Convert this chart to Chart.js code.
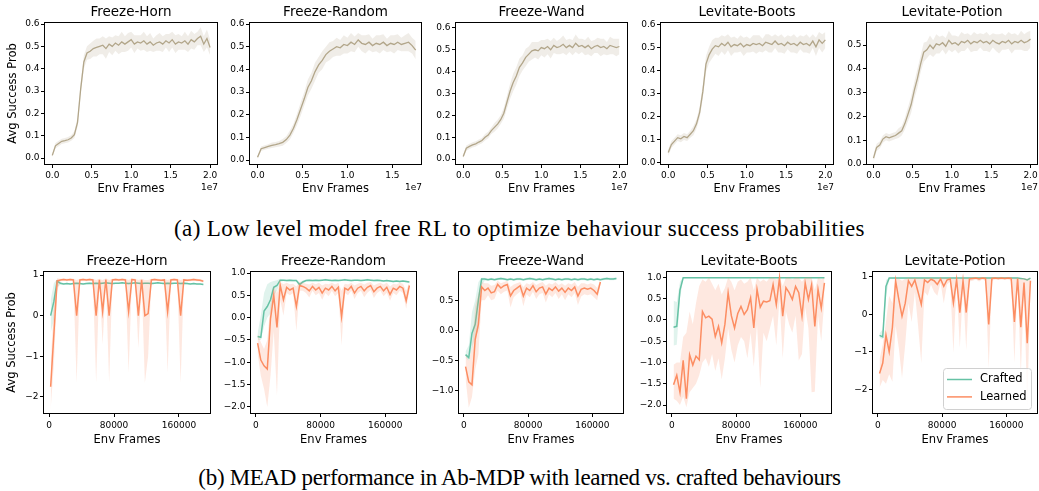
<!DOCTYPE html>
<html lang="en">
<head>
<meta charset="UTF-8" />
<title>Behaviour success curves</title>
<script src="https://cdn.jsdelivr.net/npm/chart.js"></script>
<style>
  body { margin: 0; width: 1039px; height: 491px; position: relative; overflow: hidden; background: #fff; }
  canvas { position: absolute; }
  .caption {
    position: absolute; left: 0; width: 1039px; text-align: center; white-space: nowrap;
    font-family: "Liberation Serif", "Times New Roman", serif; font-size: 23px; line-height: 23px; color: #000;
  }
</style>
</head>
<body>
<div class="caption" style="top:217px; letter-spacing:0.35px">(a) Low level model free RL to optimize behaviour success probabilities</div>
<div class="caption" style="top:466px; letter-spacing:-0.32px">(b) MEAD performance in Ab-MDP with learned vs. crafted behaviours</div>
<script>
// ---- row (a): env frames in units of 1e7 ----
const framesA = [0,0.04,0.08,0.12,0.16,0.2,0.24,0.28,0.32,0.36,
  0.4,0.44,0.48,0.52,0.56,0.6,0.64,0.68,0.72,0.76,
  0.8,0.84,0.88,0.92,0.96,1.0,1.04,1.08,1.12,1.16,
  1.2,1.24,1.28,1.32,1.36,1.4,1.44,1.48,1.52,1.56,
  1.6,1.64,1.68,1.72,1.76,1.8,1.84,1.88,1.92,1.96,
  2.0];
const ticksA = [0, 0.5, 1.0, 1.5, 2.0];

const hornA = [0.012,0.055,0.065,0.075,0.078,0.082,0.09,0.105,0.16,0.31,
  0.43,0.47,0.478,0.49,0.495,0.5,0.505,0.49,0.51,0.5,
  0.515,0.505,0.52,0.51,0.52,0.53,0.51,0.52,0.515,0.525,
  0.51,0.52,0.505,0.515,0.52,0.51,0.525,0.515,0.53,0.51,
  0.52,0.515,0.525,0.51,0.53,0.52,0.535,0.545,0.51,0.535,
  0.495];
const hornASpread = [0.008,0.012,0.012,0.012,0.012,0.012,0.012,0.015,0.02,0.025,
  0.03,0.03,0.035,0.035,0.04,0.035,0.04,0.045,0.035,0.04,
  0.035,0.04,0.045,0.035,0.04,0.035,0.04,0.03,0.035,0.04,
  0.035,0.04,0.03,0.035,0.04,0.035,0.03,0.04,0.035,0.04,
  0.035,0.03,0.04,0.035,0.04,0.035,0.03,0.04,0.035,0.04,
  0.035];

const randomA = [0.012,0.05,0.055,0.06,0.065,0.068,0.072,0.078,0.09,0.11,
  0.14,0.18,0.225,0.27,0.32,0.35,0.39,0.42,0.44,0.465,
  0.48,0.49,0.5,0.495,0.51,0.505,0.52,0.51,0.53,0.515,
  0.51,0.52,0.505,0.515,0.51,0.52,0.505,0.515,0.51,0.52,
  0.51,0.515,0.52,0.505,0.485];
const randomASpread = [0.008,0.01,0.01,0.01,0.012,0.012,0.012,0.015,0.015,0.02,
  0.02,0.025,0.03,0.03,0.035,0.035,0.04,0.035,0.04,0.035,
  0.04,0.035,0.04,0.035,0.04,0.035,0.04,0.035,0.03,0.035,
  0.04,0.035,0.03,0.035,0.04,0.035,0.03,0.035,0.04,0.035,
  0.03,0.035,0.04,0.035,0.04];

const wandA = [0.012,0.05,0.058,0.065,0.07,0.078,0.085,0.1,0.11,0.13,
  0.145,0.16,0.18,0.21,0.26,0.31,0.35,0.38,0.42,0.44,
  0.465,0.48,0.495,0.5,0.495,0.51,0.505,0.515,0.5,0.52,
  0.51,0.515,0.525,0.51,0.52,0.51,0.53,0.515,0.52,0.51,
  0.52,0.505,0.515,0.52,0.51,0.515,0.505,0.52,0.515,0.51,
  0.515];
const wandASpread = [0.008,0.012,0.012,0.012,0.012,0.012,0.012,0.015,0.015,0.015,
  0.02,0.02,0.02,0.025,0.03,0.035,0.04,0.04,0.04,0.035,
  0.04,0.035,0.04,0.035,0.04,0.035,0.04,0.035,0.04,0.035,
  0.03,0.035,0.04,0.035,0.03,0.035,0.04,0.035,0.03,0.035,
  0.04,0.035,0.03,0.035,0.04,0.035,0.03,0.04,0.035,0.04,
  0.035];

const bootsA = [0.045,0.08,0.095,0.11,0.105,0.115,0.11,0.125,0.14,0.17,
  0.22,0.31,0.43,0.47,0.495,0.51,0.505,0.52,0.51,0.525,
  0.505,0.515,0.51,0.52,0.505,0.515,0.51,0.52,0.515,0.52,
  0.51,0.525,0.52,0.515,0.53,0.515,0.52,0.51,0.525,0.515,
  0.52,0.51,0.525,0.515,0.52,0.51,0.53,0.505,0.535,0.52,
  0.535];
const bootsASpread = [0.015,0.015,0.015,0.015,0.015,0.015,0.015,0.015,0.02,0.02,
  0.025,0.03,0.035,0.035,0.04,0.035,0.04,0.035,0.04,0.035,
  0.04,0.035,0.03,0.035,0.04,0.035,0.03,0.035,0.04,0.035,
  0.03,0.035,0.04,0.035,0.03,0.035,0.04,0.035,0.03,0.035,
  0.04,0.035,0.03,0.035,0.04,0.035,0.03,0.04,0.035,0.04,
  0.035];

const potionA = [0.025,0.07,0.08,0.105,0.115,0.11,0.115,0.12,0.13,0.14,
  0.17,0.21,0.25,0.31,0.36,0.42,0.47,0.48,0.5,0.485,
  0.505,0.5,0.51,0.495,0.52,0.505,0.51,0.5,0.515,0.51,
  0.52,0.505,0.515,0.51,0.52,0.51,0.515,0.505,0.52,0.51,
  0.505,0.515,0.51,0.52,0.505,0.515,0.51,0.52,0.51,0.515,
  0.525];
const potionASpread = [0.015,0.015,0.015,0.015,0.015,0.015,0.015,0.015,0.02,0.02,
  0.025,0.03,0.035,0.035,0.04,0.035,0.04,0.035,0.04,0.035,
  0.04,0.035,0.03,0.035,0.04,0.035,0.03,0.035,0.04,0.035,
  0.03,0.035,0.04,0.035,0.03,0.035,0.04,0.035,0.03,0.035,
  0.04,0.035,0.03,0.035,0.04,0.035,0.03,0.04,0.035,0.04,
  0.035];

// ---- row (b): env frames ----
const framesB = [2000,6000,10000,14000,18000,22000,26000,30000,34000,38000,
  42000,46000,50000,54000,58000,62000,66000,70000,74000,78000,
  82000,86000,90000,94000,98000,102000,106000,110000,114000,118000,
  122000,126000,130000,134000,138000,142000,146000,150000,154000,158000,
  162000,166000,170000,174000,178000,182000,186000,190000];
const ticksB = [0, 80000, 160000];

const hornCrafted = [0.0,0.35,0.85,0.8,0.78,0.79,0.78,0.79,0.8,0.79,
  0.78,0.79,0.8,0.79,0.8,0.79,0.8,0.81,0.8,0.79,
  0.8,0.8,0.81,0.8,0.79,0.8,0.81,0.8,0.79,0.8,
  0.8,0.79,0.8,0.81,0.8,0.79,0.8,0.79,0.8,0.8,
  0.79,0.8,0.79,0.78,0.79,0.78,0.78,0.77];
const hornCraftedLo = [-0.42,-0.1,0.7,0.76,0.76,0.77,0.76,0.77,0.78,0.77,
  0.76,0.77,0.78,0.77,0.78,0.77,0.78,0.79,0.78,0.77,
  0.78,0.78,0.79,0.78,0.77,0.78,0.79,0.78,0.77,0.78,
  0.78,0.77,0.78,0.79,0.78,0.77,0.78,0.77,0.78,0.78,
  0.77,0.78,0.77,0.76,0.77,0.76,0.76,0.75];
const hornCraftedHi = [0.38,0.8,0.9,0.83,0.8,0.81,0.8,0.81,0.82,0.81,
  0.8,0.81,0.82,0.81,0.82,0.81,0.82,0.83,0.82,0.81,
  0.82,0.82,0.83,0.82,0.81,0.82,0.83,0.82,0.81,0.82,
  0.82,0.81,0.82,0.83,0.82,0.81,0.82,0.81,0.82,0.82,
  0.81,0.82,0.81,0.8,0.81,0.8,0.8,0.79];
const hornLearned = [-1.75,-0.45,0.86,0.88,0.89,0.88,0.89,0.88,0.0,0.88,
  0.89,0.88,0.89,0.88,0.0,0.88,0.1,0.89,0.0,0.88,
  0.89,0.88,0.89,0.88,0.1,0.89,0.88,0.0,0.88,0.0,
  0.05,0.88,0.89,0.88,0.87,0.88,0.1,0.88,0.89,0.88,
  0.0,0.88,0.87,0.88,0.89,0.88,0.87,0.85];
const hornLearnedLo = [-2.3,-1.2,0.6,0.85,0.86,0.85,0.86,0.85,-1.65,0.85,
  0.86,0.85,0.86,0.85,-1.65,0.85,-0.7,0.86,-1.65,0.85,
  0.86,0.85,0.86,0.85,-1.4,0.86,0.85,-0.8,0.85,-1.65,
  -1.0,0.85,0.86,0.85,0.84,0.85,-1.4,0.85,0.86,0.85,
  -1.65,0.85,0.84,0.85,0.86,0.85,0.84,0.82];
const hornLearnedHi = [-1.2,0.25,0.92,0.91,0.92,0.91,0.92,0.91,0.88,0.91,
  0.92,0.91,0.92,0.91,0.88,0.91,0.88,0.92,0.88,0.91,
  0.92,0.91,0.92,0.91,0.88,0.92,0.91,0.88,0.91,0.88,
  0.88,0.91,0.92,0.91,0.9,0.91,0.88,0.91,0.92,0.91,
  0.88,0.91,0.9,0.91,0.92,0.91,0.9,0.88];

const randomCrafted = [-0.42,-0.44,0.15,0.25,0.4,0.68,0.72,0.84,0.84,0.83,
  0.84,0.83,0.83,0.74,0.8,0.83,0.84,0.83,0.84,0.83,
  0.84,0.85,0.84,0.83,0.84,0.83,0.84,0.85,0.84,0.83,
  0.84,0.84,0.83,0.84,0.85,0.84,0.83,0.84,0.83,0.82,
  0.83,0.82,0.81,0.82,0.81,0.82,0.81,0.8];
const randomCraftedLo = [-0.5,-0.5,-0.2,0.0,0.1,0.5,0.6,0.8,0.82,0.81,
  0.82,0.81,0.81,0.7,0.77,0.81,0.82,0.81,0.82,0.81,
  0.82,0.83,0.82,0.81,0.82,0.81,0.82,0.83,0.82,0.81,
  0.82,0.82,0.81,0.82,0.83,0.82,0.81,0.82,0.81,0.8,
  0.81,0.8,0.79,0.8,0.79,0.8,0.79,0.78];
const randomCraftedHi = [-0.35,0.05,0.55,0.75,0.8,0.82,0.84,0.87,0.86,0.85,
  0.86,0.85,0.85,0.8,0.83,0.85,0.86,0.85,0.86,0.85,
  0.86,0.87,0.86,0.85,0.86,0.85,0.86,0.87,0.86,0.85,
  0.86,0.86,0.85,0.86,0.87,0.86,0.85,0.86,0.85,0.84,
  0.85,0.84,0.83,0.84,0.83,0.84,0.83,0.82];
const randomLearned = [-0.57,-0.95,-1.08,-1.15,-0.02,0.5,-0.22,0.73,0.4,0.68,
  0.62,0.66,0.25,0.72,0.7,0.66,0.6,0.7,0.62,0.68,
  0.55,0.66,0.62,0.7,0.6,0.68,0.02,0.66,0.62,0.7,
  0.55,0.66,0.7,0.6,0.68,0.72,0.58,0.66,0.7,0.6,
  0.68,0.52,0.66,0.62,0.7,0.66,0.38,0.72];
const randomLearnedLo = [-0.8,-1.3,-1.6,-2.0,-1.3,-0.3,-1.75,0.4,0.05,0.55,
  0.5,0.55,-0.3,0.6,0.6,0.55,0.45,0.6,0.5,0.55,
  0.4,0.55,0.48,0.6,0.48,0.56,-0.62,0.55,0.5,0.6,
  0.42,0.55,0.6,0.46,0.56,0.62,0.44,0.55,0.6,0.48,
  0.56,0.38,0.55,0.5,0.6,0.55,0.2,0.62];
const randomLearnedHi = [-0.35,-0.55,-0.7,-0.5,0.3,0.7,0.55,0.8,0.75,0.78,
  0.75,0.76,0.7,0.8,0.78,0.76,0.74,0.78,0.75,0.78,
  0.72,0.76,0.75,0.78,0.74,0.78,0.6,0.76,0.74,0.78,
  0.72,0.76,0.78,0.74,0.78,0.8,0.72,0.76,0.78,0.74,
  0.78,0.7,0.76,0.74,0.78,0.76,0.6,0.8];

const wandCrafted = [-0.4,-0.45,-0.05,0.1,0.5,0.85,0.85,0.84,0.85,0.84,
  0.85,0.86,0.85,0.84,0.85,0.84,0.85,0.85,0.84,0.85,
  0.86,0.85,0.84,0.85,0.84,0.85,0.86,0.85,0.84,0.85,
  0.84,0.85,0.85,0.84,0.85,0.84,0.85,0.85,0.84,0.85,
  0.84,0.85,0.84,0.85,0.86,0.85,0.85,0.86];
const wandCraftedLo = [-0.45,-0.5,-0.3,-0.1,0.0,0.75,0.82,0.82,0.83,0.82,
  0.83,0.84,0.83,0.82,0.83,0.82,0.83,0.83,0.82,0.83,
  0.84,0.83,0.82,0.83,0.82,0.83,0.84,0.83,0.82,0.83,
  0.82,0.83,0.83,0.82,0.83,0.82,0.83,0.83,0.82,0.83,
  0.82,0.83,0.82,0.83,0.84,0.83,0.83,0.84];
const wandCraftedHi = [-0.35,-0.25,0.3,0.5,0.8,0.87,0.87,0.86,0.87,0.86,
  0.87,0.88,0.87,0.86,0.87,0.86,0.87,0.87,0.86,0.87,
  0.88,0.87,0.86,0.87,0.86,0.87,0.88,0.87,0.86,0.87,
  0.86,0.87,0.87,0.86,0.87,0.86,0.87,0.87,0.86,0.87,
  0.86,0.87,0.86,0.87,0.88,0.87,0.87,0.88];
const wandLearned = [-0.6,-0.85,-0.9,-0.15,0.1,0.72,0.66,0.7,0.62,0.64,
  0.76,0.7,0.74,0.76,0.57,0.66,0.7,0.74,0.57,0.7,
  0.66,0.74,0.64,0.7,0.72,0.6,0.7,0.66,0.72,0.65,
  0.7,0.63,0.7,0.66,0.72,0.57,0.68,0.7,0.68,0.7,
  0.66,0.6,0.8,null,null,null,null,null];
const wandLearnedLo = [-0.8,-1.28,-1.1,-0.65,-0.4,0.5,0.5,0.58,0.5,0.52,
  0.66,0.6,0.64,0.66,0.38,0.55,0.6,0.64,0.4,0.6,
  0.55,0.64,0.52,0.6,0.62,0.46,0.6,0.55,0.62,0.52,
  0.6,0.5,0.6,0.55,0.62,0.42,0.56,0.6,0.58,0.6,
  0.55,0.5,0.75,null,null,null,null,null];
const wandLearnedHi = [-0.4,-0.5,-0.3,0.4,0.6,0.8,0.78,0.78,0.74,0.75,
  0.82,0.78,0.8,0.82,0.72,0.76,0.78,0.8,0.72,0.78,
  0.76,0.8,0.75,0.78,0.8,0.74,0.78,0.76,0.8,0.75,
  0.78,0.74,0.78,0.76,0.8,0.72,0.78,0.78,0.76,0.78,
  0.76,0.7,0.84,null,null,null,null,null];

const bootsCrafted = [-0.17,-0.15,0.7,0.99,0.99,0.99,0.99,0.99,0.99,0.99,
  0.99,0.99,0.99,0.99,0.99,0.99,0.99,0.99,0.99,0.99,
  0.99,0.99,0.99,0.99,0.99,0.99,0.99,0.99,0.99,0.99,
  0.99,0.99,0.99,0.99,0.99,0.99,0.99,0.99,0.99,0.99,
  0.99,0.99,0.99,0.99,0.99,0.99,0.99,0.99];
const bootsCraftedLo = [-0.6,-0.58,0.5,0.97,0.98,0.98,0.98,0.98,0.98,0.98,
  0.98,0.98,0.98,0.98,0.98,0.98,0.98,0.98,0.98,0.98,
  0.98,0.98,0.98,0.98,0.98,0.98,0.98,0.98,0.98,0.98,
  0.98,0.98,0.98,0.98,0.98,0.98,0.98,0.98,0.98,0.98,
  0.98,0.98,0.98,0.98,0.98,0.98,0.98,0.98];
const bootsCraftedHi = [0.45,0.42,0.9,1.0,1.0,1.0,1.0,1.0,1.0,1.0,
  1.0,1.0,1.0,1.0,1.0,1.0,1.0,1.0,1.0,1.0,
  1.0,1.0,1.0,1.0,1.0,1.0,1.0,1.0,1.0,1.0,
  1.0,1.0,1.0,1.0,1.0,1.0,1.0,1.0,1.0,1.0,
  1.0,1.0,1.0,1.0,1.0,1.0,1.0,1.0];
const bootsLearned = [-1.52,-1.3,-1.7,-0.95,-1.85,-0.82,-1.06,-0.85,-0.94,0.2,
  0.05,0.09,0.02,-0.39,-0.15,-0.54,-0.1,0.64,0.1,-0.19,
  0.15,0.32,0.13,0.24,0.52,-0.19,0.72,0.3,0.44,0.42,
  0.45,0.83,0.36,0.99,0.09,0.76,0.64,0.48,0.79,0.64,
  0.09,0.87,0.48,0.83,-0.15,0.72,0.28,0.87];
const bootsLearnedLo = [-1.85,-1.9,-2.0,-1.8,-2.05,-1.7,-1.6,-1.5,-1.3,-1.0,
  -0.9,-1.1,-0.8,-1.2,-0.9,-1.4,-0.9,-0.2,-0.7,-1.0,
  -0.6,-0.4,-0.5,-0.9,-0.3,-1.1,-0.1,-1.6,-0.3,-0.5,
  -0.2,0.1,-0.6,0.5,-0.9,0.2,-0.1,-0.3,0.1,-0.95,
  -0.8,0.3,-0.2,-1.7,-1.69,0.1,-0.5,0.5];
const bootsLearnedHi = [-1.05,-1.0,-1.0,-0.4,-0.3,0.2,-0.1,0.4,0.8,0.95,
  0.9,1.0,0.85,0.7,0.85,0.6,0.75,1.0,0.9,0.7,
  0.9,0.95,0.85,0.9,1.0,0.7,1.0,0.9,0.95,0.9,
  1.0,1.0,0.95,1.0,0.8,1.0,1.0,0.95,1.0,1.0,
  0.9,1.0,1.0,1.0,0.7,1.0,0.95,1.0];

const potionCrafted = [-0.56,-0.6,0.75,0.97,0.97,0.97,0.97,0.97,0.97,0.97,
  0.97,0.97,0.97,0.97,0.97,0.97,0.97,0.97,0.97,0.97,
  0.97,0.97,0.97,0.97,0.97,0.97,0.97,0.97,0.97,0.97,
  0.97,0.97,0.97,0.97,0.97,0.97,0.97,0.97,0.97,0.97,
  0.97,0.97,0.97,0.97,0.96,0.95,0.92,0.97];
const potionCraftedLo = [-0.62,-0.66,0.45,0.95,0.96,0.96,0.96,0.96,0.96,0.96,
  0.96,0.96,0.96,0.96,0.96,0.96,0.96,0.96,0.96,0.96,
  0.96,0.96,0.96,0.96,0.96,0.96,0.96,0.96,0.96,0.96,
  0.96,0.96,0.96,0.96,0.96,0.96,0.96,0.96,0.96,0.96,
  0.96,0.96,0.96,0.96,0.95,0.94,0.9,0.96];
const potionCraftedHi = [-0.5,-0.4,0.92,0.98,0.98,0.98,0.98,0.98,0.98,0.98,
  0.98,0.98,0.98,0.98,0.98,0.98,0.98,0.98,0.98,0.98,
  0.98,0.98,0.98,0.98,0.98,0.98,0.98,0.98,0.98,0.98,
  0.98,0.98,0.98,0.98,0.98,0.98,0.98,0.98,0.98,0.98,
  0.98,0.98,0.98,0.98,0.97,0.96,0.94,0.98];
const potionLearned = [-1.58,-1.3,-0.55,-1.0,-0.35,0.9,0.4,-0.05,0.3,0.9,
  0.75,0.92,0.6,0.27,0.92,0.85,0.94,0.9,0.8,0.95,
  0.75,0.92,0.95,0.31,0.93,0.05,0.9,0.05,0.95,0.96,
  0.97,0.95,0.97,0.96,-0.27,0.96,0.97,0.96,0.97,0.96,
  0.97,0.96,-0.2,0.96,-0.34,0.85,-0.77,0.9];
const potionLearnedLo = [-1.95,-1.75,-1.85,-1.6,-1.8,-0.3,-0.9,-1.7,-0.8,0.3,
  -0.2,0.6,-0.3,-1.3,0.6,0.5,0.8,0.6,0.5,0.85,
  0.3,0.8,0.88,-1.03,0.82,-0.9,0.7,-0.95,0.88,0.9,
  0.93,0.88,0.93,0.9,-1.44,0.9,0.93,0.92,0.93,0.92,
  0.93,0.9,-1.3,0.9,-1.6,0.7,-2.48,0.75];
const potionLearnedHi = [-1.2,-0.8,-0.2,0.5,0.3,0.97,0.95,0.9,0.95,0.97,
  0.97,0.97,0.97,0.95,0.97,0.97,0.97,0.97,0.97,0.98,
  0.97,0.97,0.98,0.95,0.98,0.95,0.97,0.95,0.98,0.98,
  0.98,0.98,0.98,0.98,0.95,0.98,0.98,0.98,0.98,0.98,
  0.98,0.98,0.95,0.98,0.95,0.97,0.95,0.97];

// ---- drawing ----
const FONT = "'DejaVu Sans', sans-serif";
const TAN = '#b2a68a', GREEN = '#66c2a5', ORANGE = '#fc8d62';
const YW = 42, RP = 4, TITLE_H = 22;

function fmtNum(dec) {
  return v => {
    if (Math.abs(v) < 1e-9) v = 0;
    const s = Math.abs(v).toFixed(dec);
    return v < 0 ? '\u2212' + s : s;
  };
}

function toPts(xs, ys) {
  return ys.map((y, i) => ({x: xs[i], y: y}));
}

function bandSets(xs, lo, hi, color, order) {
  return [
    {data: toPts(xs, lo), borderWidth: 0, borderColor: 'transparent', pointRadius: 0, fill: false, order: order},
    {data: toPts(xs, hi), borderWidth: 0, borderColor: 'transparent', pointRadius: 0, fill: '-1', backgroundColor: color, order: order}
  ];
}

function lineSet(xs, ys, color, width, order, label) {
  return {label: label, data: toPts(xs, ys), borderColor: color, borderWidth: width, pointRadius: 0, fill: false, order: order};
}

// axes frame, panel title, offset text and inset legend
const framePlugin = {
  id: 'frame',
  afterDraw(chart, args, o) {
    const ctx = chart.ctx, a = chart.chartArea;
    ctx.save();
    ctx.strokeStyle = '#000';
    ctx.lineWidth = 1;
    ctx.strokeRect(Math.round(a.left) + 0.5, Math.round(a.top) + 0.5,
      Math.round(a.right - a.left) - 1, Math.round(a.bottom - a.top) - 1);
    ctx.fillStyle = '#000';
    ctx.font = '13.5px ' + FONT;
    ctx.textAlign = 'center';
    ctx.textBaseline = 'middle';
    ctx.fillText(o.title, (a.left + a.right) / 2, a.top - 10);
    if (o.offset) {
      ctx.font = '9px ' + FONT;
      ctx.textAlign = 'right';
      ctx.fillText(o.offset, a.right, a.bottom + 23);
    }
    if (o.legend) {
      const items = chart.data.datasets.filter(d => d.label);
      const lw = 88, lh = 41;
      const x0 = a.right - 7 - lw, y0 = a.bottom - 5 - lh;
      ctx.beginPath();
      ctx.roundRect(x0 + 0.5, y0 + 0.5, lw, lh, 3);
      ctx.fillStyle = 'rgba(255,255,255,0.8)';
      ctx.fill();
      ctx.strokeStyle = '#d0d0d0';
      ctx.stroke();
      items.forEach((d, i) => {
        const cy = y0 + 11.5 + i * 17.4;
        ctx.strokeStyle = d.borderColor;
        ctx.lineWidth = 1.5;
        ctx.beginPath();
        ctx.moveTo(x0 + 4, cy);
        ctx.lineTo(x0 + 29, cy);
        ctx.stroke();
        ctx.fillStyle = '#000';
        ctx.font = '11.5px ' + FONT;
        ctx.textAlign = 'left';
        ctx.fillText(d.label, x0 + 37, cy);
      });
    }
    ctx.restore();
  }
};

function makeChart(p) {
  const [L, T, R, B] = p.box;
  const hx = p.row === 0 ? 31 : 33;
  const w = R - L + YW + RP, h = TITLE_H + (B - T) + hx;
  const cv = document.createElement('canvas');
  cv.width = w; cv.height = h;
  cv.style.left = (L - YW) + 'px';
  cv.style.top = (T - TITLE_H) + 'px';
  cv.style.width = w + 'px';
  cv.style.height = h + 'px';
  document.body.appendChild(cv);

  const tickGrid = {display: true, drawOnChartArea: false, drawTicks: true, tickLength: 3, color: '#000', lineWidth: 1};
  new Chart(cv, {
    type: 'line',
    data: {datasets: p.datasets},
    plugins: [framePlugin],
    options: {
      responsive: false,
      animation: false,
      devicePixelRatio: 1,
      layout: {padding: {left: 0, right: RP, top: TITLE_H, bottom: 0}},
      plugins: {
        legend: {display: false},
        tooltip: {enabled: false},
        title: {display: false},
        frame: {title: p.title, offset: p.offset, legend: p.legend}
      },
      scales: {
        x: {
          type: 'linear', min: p.xMin, max: p.xMax,
          afterBuildTicks: s => { s.ticks = p.xTicks.map(v => ({value: v})); },
          ticks: {autoSkip: false, maxRotation: 0,
            font: {family: FONT, size: 9}, color: '#000', padding: p.row === 0 ? 2 : 3, callback: p.xFmt},
          grid: tickGrid,
          border: {display: false},
          title: {display: true, text: 'Env Frames', color: '#000',
            font: {family: FONT, size: 11.5}, padding: {top: 0, bottom: 0}},
          afterFit: s => { s.height = hx; s.paddingLeft = 0; s.paddingRight = 0; }
        },
        y: {
          type: 'linear', min: p.yMin, max: p.yMax,
          ticks: {stepSize: p.yStep, includeBounds: false, autoSkip: false,
            font: {family: FONT, size: 9}, color: '#000', padding: 1.5, callback: fmtNum(p.yDec)},
          grid: tickGrid,
          border: {display: false},
          title: {display: !!p.yTitle, text: p.yTitle || '', color: '#000',
            font: {family: FONT, size: 11.5}, padding: {top: 4, bottom: 0}},
          afterFit: s => { s.width = YW; s.paddingTop = 0; s.paddingBottom = 0; }
        }
      }
    }
  });
}

// row (a)
const topPanels = [
  {title: 'Freeze-Horn', box: [44, 22, 218, 165], mean: hornA, spread: hornASpread, xMin: -0.105, xMax: 2.1, yMin: -0.031, yMax: 0.609, yTitle: 'Avg Success Prob'},
  {title: 'Freeze-Random', box: [249, 22, 422, 165], mean: randomA, spread: randomASpread, xMin: -0.095, xMax: 1.83, yMin: -0.022, yMax: 0.609},
  {title: 'Freeze-Wand', box: [455, 22, 628, 165], mean: wandA, spread: wandASpread, xMin: -0.105, xMax: 2.11, yMin: -0.027, yMax: 0.627},
  {title: 'Levitate-Boots', box: [660, 22, 834, 165], mean: bootsA, spread: bootsASpread, xMin: -0.105, xMax: 2.11, yMin: -0.009, yMax: 0.613},
  {title: 'Levitate-Potion', box: [866, 22, 1038, 165], mean: potionA, spread: potionASpread, xMin: -0.095, xMax: 2.095, yMin: -0.004, yMax: 0.597}
];
topPanels.forEach(p => {
  const lo = p.mean.map((m, i) => m - p.spread[i]);
  const hi = p.mean.map((m, i) => m + p.spread[i]);
  makeChart({
    title: p.title, box: p.box, row: 0, yTitle: p.yTitle, offset: '1e7',
    xMin: p.xMin, xMax: p.xMax, xTicks: ticksA.filter(v => v <= p.xMax), xFmt: v => v.toFixed(1),
    yMin: p.yMin, yMax: p.yMax, yStep: 0.1, yDec: 1,
    datasets: [
      ...bandSets(framesA, lo, hi, 'rgba(178,166,138,0.2)', 2),
      lineSet(framesA, p.mean, TAN, 1.3, 1)
    ]
  });
});

// row (b)
const botPanels = [
  {title: 'Freeze-Horn', box: [43, 271, 211, 414], c: [hornCrafted, hornCraftedLo, hornCraftedHi], l: [hornLearned, hornLearnedLo, hornLearnedHi], yMin: -2.42, yMax: 1.1, yStep: 1, yDec: 0, yTitle: 'Avg Success Prob'},
  {title: 'Freeze-Random', box: [250, 271, 417, 414], c: [randomCrafted, randomCraftedLo, randomCraftedHi], l: [randomLearned, randomLearnedLo, randomLearnedHi], yMin: -2.157, yMax: 1.045, yStep: 0.5, yDec: 1},
  {title: 'Freeze-Wand', box: [458, 271, 624, 414], c: [wandCrafted, wandCraftedLo, wandCraftedHi], l: [wandLearned, wandLearnedLo, wandLearnedHi], yMin: -1.383, yMax: 0.983, yStep: 0.5, yDec: 1},
  {title: 'Levitate-Boots', box: [666, 271, 832, 414], c: [bootsCrafted, bootsCraftedLo, bootsCraftedHi], l: [bootsLearned, bootsLearnedLo, bootsLearnedHi], yMin: -2.21, yMax: 1.15, yStep: 0.5, yDec: 1},
  {title: 'Levitate-Potion', box: [872, 271, 1038, 414], c: [potionCrafted, potionCraftedLo, potionCraftedHi], l: [potionLearned, potionLearnedLo, potionLearnedHi], yMin: -2.66, yMax: 1.16, yStep: 1, yDec: 0, legend: true}
];
botPanels.forEach(p => {
  makeChart({
    title: p.title, box: p.box, row: 1, yTitle: p.yTitle, legend: p.legend,
    xMin: -7400, xMax: 199400, xTicks: ticksB, xFmt: v => String(v),
    yMin: p.yMin, yMax: p.yMax, yStep: p.yStep, yDec: p.yDec,
    datasets: [
      ...bandSets(framesB, p.c[1], p.c[2], 'rgba(102,194,165,0.2)', 4),
      lineSet(framesB, p.c[0], GREEN, 1.5, 3, 'Crafted'),
      ...bandSets(framesB, p.l[1], p.l[2], 'rgba(252,141,98,0.2)', 2),
      lineSet(framesB, p.l[0], ORANGE, 1.5, 1, 'Learned')
    ]
  });
});
</script>
</body>
</html>
